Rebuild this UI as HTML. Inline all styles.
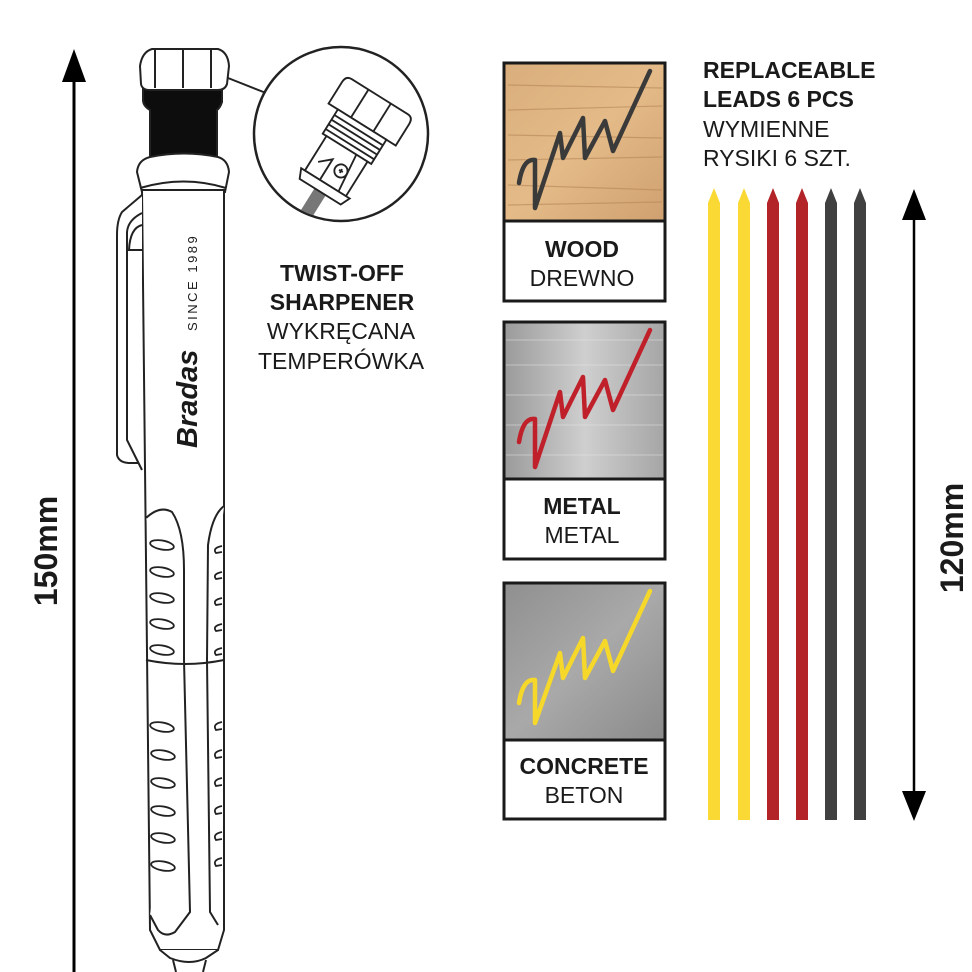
<!DOCTYPE html>
<html><head><meta charset="utf-8"><style>
html,body{margin:0;padding:0;background:#fff;width:972px;height:972px;overflow:hidden}
text{font-family:"Liberation Sans",sans-serif;fill:#1a1a1a}
</style></head><body>
<svg width="972" height="972" viewBox="0 0 972 972" xmlns="http://www.w3.org/2000/svg">
<defs>
<linearGradient id="wood" x1="0" y1="0" x2="1" y2="1">
<stop offset="0" stop-color="#d9ae7c"/><stop offset="0.5" stop-color="#e4bb88"/><stop offset="1" stop-color="#cfa070"/></linearGradient>
<linearGradient id="metal" x1="0" y1="0" x2="1" y2="0">
<stop offset="0" stop-color="#9a9a9a"/><stop offset="0.5" stop-color="#cfcfcf"/><stop offset="1" stop-color="#a5a5a5"/></linearGradient>
<linearGradient id="conc" x1="0" y1="0" x2="1" y2="1">
<stop offset="0" stop-color="#8f8f8f"/><stop offset="0.5" stop-color="#a9a9a9"/><stop offset="1" stop-color="#8a8a8a"/></linearGradient>
<clipPath id="cc"><circle cx="341" cy="134" r="86"/></clipPath>
</defs>

<!-- left dimension arrow -->
<line x1="74" y1="75" x2="74" y2="972" stroke="#000" stroke-width="3"/>
<polygon points="74,49 62,82 86,82" fill="#000"/>
<text transform="translate(57,551) rotate(-90)" font-size="32" font-weight="bold" text-anchor="middle">150mm</text>

<!-- pencil -->
<g fill="#fff" stroke="#222" stroke-width="2">
<path d="M143,88 Q145,80 155,80 L212,80 Q222,80 222,90 L222,102 Q220,108 217,110 L217,160 L150,160 L150,110 Q143,106 143,100 Z" fill="#0d0d0d"/>
<path d="M140,66 Q142,52 152,49 L218,49 Q228,52 229,66 L227,84 Q225,90 218,90 L150,90 Q142,90 141,84 Z"/>
<line x1="155" y1="49" x2="155" y2="88"/><line x1="183" y1="49" x2="183" y2="88"/><line x1="211" y1="49" x2="211" y2="88"/>
<path d="M137,172 Q138,160 150,157 Q184,150 218,157 Q228,160 229,172 L225,192 L142,192 Z"/>
<path d="M140,188 Q184,175 226,188" fill="none"/>
<path d="M142,190 L224,190 L224,930 L218,950 L160,950 L150,930 Z"/>
<path d="M160,950 L170,958 Q190,966 206,958 L218,950"/>
<path d="M173,960 L176,972 M206,960 L203,972"/>
<path d="M142,195 L122,212 Q117,220 117,235 L117,455 Q119,463 130,463 L142,463"/>
<path d="M142,213 Q128,220 127,232 L127,440 L142,470"/>
<path d="M142,225 Q130,228 129,250 L129,250 L142,250" fill="none"/>
<path d="M146,518 Q160,505 172,512 Q184,530 184,570 L184,660"/>
<path d="M224,506 Q212,515 208,545 L207,660"/>
<path d="M146,660 Q185,668 224,660"/>
<path d="M184,660 L190,912 L175,932 Q165,938 158,930 L150,915"/>
<path d="M207,660 L210,912 L218,925"/>
</g>
<g fill="none" stroke="#222" stroke-width="1.8">
<ellipse cx="162" cy="545" rx="12" ry="4.5" transform="rotate(10 162 545)"/>
<ellipse cx="162" cy="572" rx="12" ry="4.5" transform="rotate(10 162 572)"/>
<ellipse cx="162" cy="598" rx="12" ry="4.5" transform="rotate(10 162 598)"/>
<ellipse cx="162" cy="624" rx="12" ry="4.5" transform="rotate(10 162 624)"/>
<ellipse cx="162" cy="650" rx="12" ry="4.5" transform="rotate(10 162 650)"/>
<ellipse cx="162" cy="727" rx="12" ry="4.5" transform="rotate(10 162 727)"/>
<ellipse cx="163" cy="755" rx="12" ry="4.5" transform="rotate(10 163 755)"/>
<ellipse cx="163" cy="783" rx="12" ry="4.5" transform="rotate(10 163 783)"/>
<ellipse cx="163" cy="811" rx="12" ry="4.5" transform="rotate(10 163 811)"/>
<ellipse cx="163" cy="838" rx="12" ry="4.5" transform="rotate(10 163 838)"/>
<ellipse cx="163" cy="866" rx="12" ry="4.5" transform="rotate(10 163 866)"/>
<path d="M222,546 Q212,548 216,553 L222,552 M222,572 Q212,574 216,579 L222,578 M222,598 Q212,600 216,605 L222,604 M222,624 Q212,626 216,631 L222,630 M222,648 Q212,650 216,655 L222,654"/>
<path d="M222,722 Q212,724 216,730 L222,729 M222,750 Q212,752 216,758 L222,757 M222,778 Q212,780 216,786 L222,785 M222,806 Q212,808 216,814 L222,813 M222,832 Q212,834 216,840 L222,839 M222,858 Q212,860 216,866 L222,865"/>
</g>
<text transform="translate(197,331) rotate(-90)" font-size="13" letter-spacing="2.5">SINCE 1989</text>
<text transform="translate(197,448) rotate(-90)" font-size="29" font-weight="bold" font-style="italic" font-family="Liberation Serif">Bradas</text>

<!-- callout -->
<line x1="228" y1="78" x2="266" y2="93" stroke="#222" stroke-width="2"/>
<circle cx="341" cy="134" r="87" fill="#fff" stroke="#222" stroke-width="2.5"/>
<g clip-path="url(#cc)">
<g transform="translate(340,160) rotate(32) scale(1.1)" fill="#fff" stroke="#222" stroke-width="1.7">
<rect x="-6" y="20" width="12" height="80" fill="#777" stroke="none"/>
<path d="M-30,-68 L30,-68 Q36,-68 36,-61 L36,-38 L-36,-38 L-36,-61 Q-36,-68 -30,-68 Z"/>
<line x1="-12" y1="-68" x2="-12" y2="-38"/><line x1="12" y1="-68" x2="12" y2="-38"/>
<path d="M-26,-38 L26,-38 L26,-12 L-26,-12 Z"/>
<line x1="-26" y1="-32" x2="26" y2="-32"/><line x1="-26" y1="-27" x2="26" y2="-27"/><line x1="-26" y1="-22" x2="26" y2="-22"/><line x1="-26" y1="-17" x2="26" y2="-17"/>
<path d="M-22,-12 L22,-12 L22,25 L-22,25 Z"/>
<path d="M-26,25 L26,25 L22,34 L-22,34 Z"/>
<circle cx="6" cy="8" r="6"/>
<path d="M4,8 h4 M6,6 v4"/>
<path d="M-16,12 L-6,3 L-6,25"/>
<path d="M10,-12 L14,25"/>
</g>
</g>
<text x="342" y="281" font-size="23" font-weight="bold" text-anchor="middle">TWIST-OFF</text>
<text x="342" y="310" font-size="23" font-weight="bold" text-anchor="middle">SHARPENER</text>
<text x="341" y="339" font-size="23" text-anchor="middle">WYKRĘCANA</text>
<text x="341" y="369" font-size="23" text-anchor="middle">TEMPERÓWKA</text>

<!-- swatches -->
<g stroke="#1a1a1a" stroke-width="3">
<rect x="504" y="63" width="161" height="238" fill="#fff"/>
<rect x="504" y="63" width="161" height="158" fill="url(#wood)"/>
<rect x="504" y="322" width="161" height="237" fill="#fff"/>
<rect x="504" y="322" width="161" height="157" fill="url(#metal)"/>
<rect x="504" y="583" width="161" height="236" fill="#fff"/>
<rect x="504" y="583" width="161" height="157" fill="url(#conc)"/>
</g>
<g stroke="#b68659" stroke-width="1.2" opacity="0.6">
<line x1="508" y1="85" x2="662" y2="88"/><line x1="508" y1="110" x2="662" y2="106"/><line x1="508" y1="135" x2="662" y2="138"/><line x1="508" y1="160" x2="662" y2="157"/><line x1="508" y1="185" x2="662" y2="190"/><line x1="508" y1="205" x2="662" y2="202"/>
</g>
<g stroke="#e6e6e6" stroke-width="1" opacity="0.5">
<line x1="506" y1="340" x2="663" y2="340"/><line x1="506" y1="365" x2="663" y2="365"/><line x1="506" y1="395" x2="663" y2="395"/><line x1="506" y1="425" x2="663" y2="425"/><line x1="506" y1="455" x2="663" y2="455"/>
</g>
<g fill="none" stroke-linecap="round" stroke-linejoin="round" stroke-width="4.5">
<path transform="translate(505,63)" stroke="#3a3a3a" d="M14,120 Q18,95 30,97 L30,145 L55,70 L58,95 L78,55 L80,95 L100,58 L108,88 L145,8"/>
<path transform="translate(505,322)" stroke="#c0202a" d="M14,120 Q18,95 30,97 L30,145 L55,70 L58,95 L78,55 L80,95 L100,58 L108,88 L145,8"/>
<path transform="translate(505,583)" stroke="#f5d82a" d="M14,120 Q18,95 30,97 L30,140 L55,70 L58,95 L78,55 L80,95 L100,58 L108,88 L145,8"/>
</g>
<text x="582" y="257" font-size="23" font-weight="bold" text-anchor="middle">WOOD</text>
<text x="582" y="286" font-size="23" text-anchor="middle">DREWNO</text>
<text x="582" y="514" font-size="23" font-weight="bold" text-anchor="middle">METAL</text>
<text x="582" y="543" font-size="23" text-anchor="middle">METAL</text>
<text x="584" y="774" font-size="23" font-weight="bold" text-anchor="middle">CONCRETE</text>
<text x="584" y="803" font-size="23" text-anchor="middle">BETON</text>

<!-- leads text -->
<text x="703" y="78" font-size="23" font-weight="bold">REPLACEABLE</text>
<text x="703" y="107" font-size="23" font-weight="bold">LEADS 6 PCS</text>
<text x="703" y="137" font-size="23">WYMIENNE</text>
<text x="703" y="166" font-size="23">RYSIKI 6 SZT.</text>

<!-- leads -->
<g>
<path d="M708,820 L708,203 L714,188 L720,203 L720,820 Z" fill="#fbd935"/>
<path d="M738,820 L738,203 L744,188 L750,203 L750,820 Z" fill="#fbd935"/>
<path d="M767,820 L767,203 L773,188 L779,203 L779,820 Z" fill="#b22428"/>
<path d="M796,820 L796,203 L802,188 L808,203 L808,820 Z" fill="#b22428"/>
<path d="M825,820 L825,203 L831,188 L837,203 L837,820 Z" fill="#404040"/>
<path d="M854,820 L854,203 L860,188 L866,203 L866,820 Z" fill="#404040"/>
</g>

<!-- right dimension arrow -->
<line x1="914" y1="215" x2="914" y2="795" stroke="#000" stroke-width="2.5"/>
<polygon points="914,189 902,220 926,220" fill="#000"/>
<polygon points="914,821 902,791 926,791" fill="#000"/>
<text transform="translate(963,538) rotate(-90)" font-size="32" font-weight="bold" text-anchor="middle">120mm</text>
</svg>
</body></html>
